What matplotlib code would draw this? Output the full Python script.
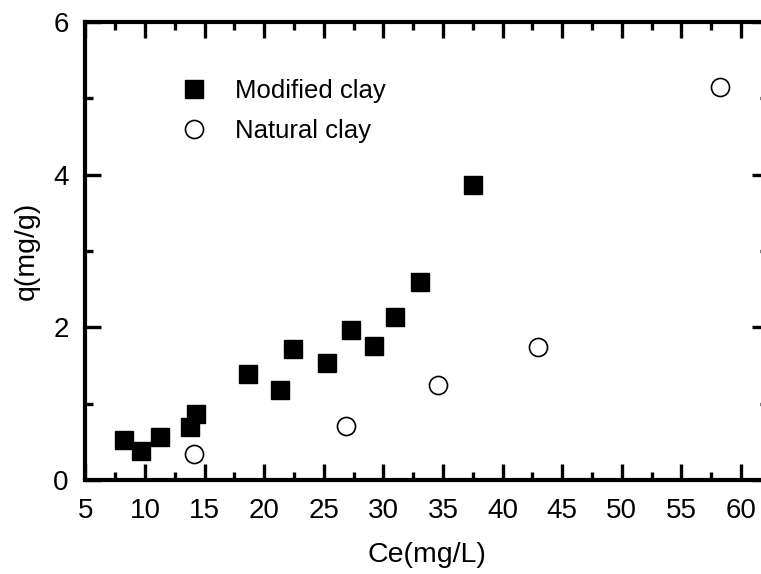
import matplotlib
matplotlib.use('Agg')
import matplotlib.pyplot as plt

# Dados
ce_modificada = [8.2, 9.7, 11.3, 13.8, 14.3, 18.6, 21.3, 22.4, 25.3, 27.3, 29.2, 31.0, 33.1, 37.5]
q_modificada = [0.53, 0.38, 0.56, 0.70, 0.87, 1.39, 1.18, 1.71, 1.53, 1.96, 1.75, 2.13, 2.59, 3.87]

ce_natural = [14.1, 26.9, 34.6, 43.0, 58.2]
q_natural = [0.34, 0.71, 1.24, 1.74, 5.15]

x_ticks = [5, 10, 15, 20, 25, 30, 35, 40, 45, 50, 55, 60]
y_ticks = [0, 2, 4, 6]

plt.rcParams['font.family'] = ['Liberation Sans', 'DejaVu Sans']

fig = plt.figure(figsize=(7.61, 5.74), dpi=100)
ax = fig.add_axes([85.4 / 761, 94 / 574, 683 / 761, 458 / 574])

ax.plot(ce_modificada, q_modificada, 's', color='black', markersize=12.5, label='Modified clay')
ax.plot(ce_natural, q_natural, 'o', markerfacecolor='white', markeredgecolor='black',
        markeredgewidth=1.2, markersize=13, label='Natural clay')

ax.set_xlim(5, 5 + 683 / 11.92)
ax.set_ylim(0, 6)
ax.set_xticks(x_ticks)
ax.set_yticks(y_ticks)
ax.set_xticks([7.5 + 5 * i for i in range(11)], minor=True)
ax.set_yticks([1, 3, 5], minor=True)

for s in ax.spines.values():
    s.set_linewidth(3)

ax.tick_params(which='both', direction='in', top=True, right=True, width=2.4, labelsize=20)
ax.tick_params(axis='x', which='both', pad=13)
ax.tick_params(axis='y', which='both', pad=12)
ax.tick_params(which='major', length=11.5)
ax.tick_params(which='minor', length=5.5)

ax.set_xlabel('Ce(mg/L)', fontsize=20.5, labelpad=13)
ax.set_ylabel('q(mg/g)', fontsize=20.5, labelpad=10)

ax.legend(loc='upper left', bbox_to_anchor=(0.103, 0.925), frameon=False, fontsize=18.5,
          handletextpad=1.0, labelspacing=0.6, handlelength=1.2)

fig.savefig('out.png', dpi=100)
